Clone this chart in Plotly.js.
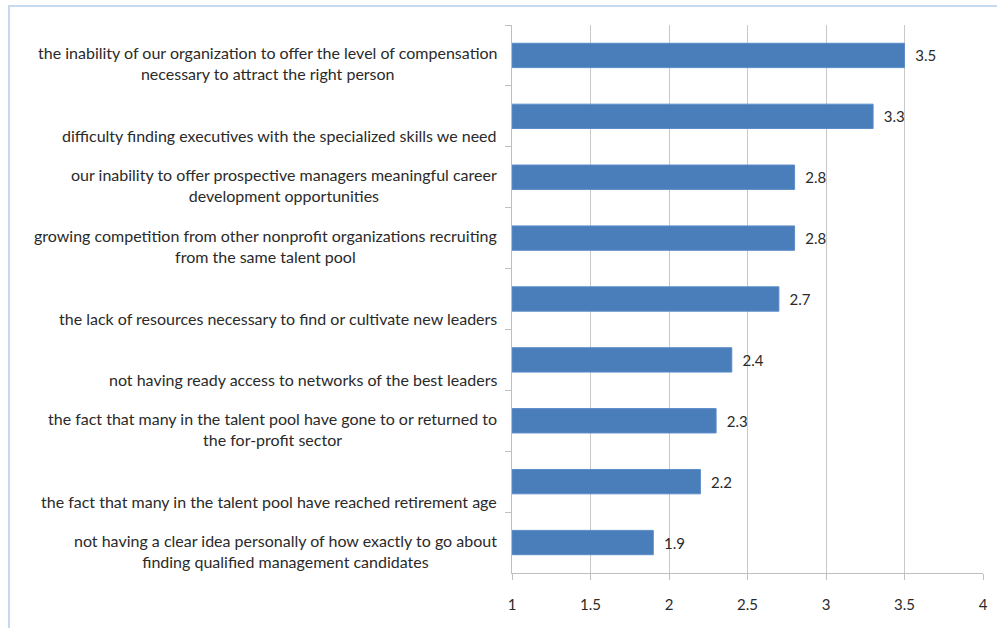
<!DOCTYPE html>
<html>
<head>
<meta charset="utf-8">
<script src="https://cdn.plot.ly/plotly-3.0.1.min.js"></script>
<style>
  html, body { margin: 0; padding: 0; background: #fff; }
  #wrap { position: relative; width: 997px; height: 628px; overflow: hidden; }
  #chart { width: 997px; height: 628px; }
  #frame { position: absolute; left: 8px; top: 5px; width: 1100px; height: 700px;
           border-top: 2px solid #c6d9f0; border-left: 2px solid #c6d9f0; pointer-events: none; }
</style>
</head>
<body>
<div id="wrap">
  <div id="chart"></div>
  <div id="frame"></div>
</div>
<script>
const categories = [
  "the inability of our organization to offer the level of compensation<br>necessary to attract the right person",
  "difficulty finding executives with the specialized skills we need",
  "our inability to offer prospective managers meaningful career<br>development opportunities",
  "growing competition from other nonprofit organizations recruiting<br>from the same talent pool",
  "the lack of resources necessary to find or cultivate new leaders",
  "not having ready access to networks of the best leaders",
  "the fact that many in the talent pool have gone to or returned to<br>the for-profit sector",
  "the fact that many in the talent pool have reached retirement age",
  "not having a clear idea personally of how exactly to go about<br>finding qualified management candidates"
];
const values = [3.5, 3.3, 2.8, 2.8, 2.7, 2.4, 2.3, 2.2, 1.9];
const xTicks = [1, 1.5, 2, 2.5, 3, 3.5, 4];

const FONT = "Lato, 'Open Sans', sans-serif";
const TXT = "#2a2a2a";
const LINE_H = 19.5;

const annotations = categories.map(function (c) {
  const n = c.split("<br>").length;
  return {
    text: c, xref: "paper", x: 0, xanchor: "right", xshift: -13,
    yref: "y", y: c, yanchor: "middle",
    yshift: -(LINE_H - (n - 1) * 11.5),
    align: "center", showarrow: false,
    font: { family: FONT, size: 16, color: TXT }
  };
});

const axisMin = 1;
const trace = {
  type: "bar", orientation: "h",
  x: values.map(v => v - axisMin), y: categories, base: axisMin,
  marker: { color: "#4a7ebb", line: { color: "#5b8cc8", width: 1 } },
  text: values.map(v => "\u00a0\u00a0" + v.toFixed(1)),
  textposition: "outside", cliponaxis: false,
  textfont: { family: FONT, size: 15, color: TXT },
  hoverinfo: "none"
};

const layout = {
  width: 997, height: 628,
  margin: { l: 512, r: 14, t: 25, b: 55 },
  paper_bgcolor: "#ffffff", plot_bgcolor: "#ffffff",
  showlegend: false, bargap: 0.6,
  xaxis: {
    range: [1, 4], tickvals: xTicks, ticktext: xTicks.map(String),
    showgrid: true, gridcolor: "#c8c8c8", gridwidth: 1,
    zeroline: false, showline: true, linecolor: "#bfbfbf", linewidth: 1,
    ticks: "outside", ticklen: 6, tickcolor: "#bfbfbf", ticklabelstandoff: 12,
    tickfont: { family: FONT, size: 15, color: TXT }, fixedrange: true
  },
  yaxis: {
    type: "category", autorange: "reversed",
    showticklabels: false, showgrid: false, zeroline: false,
    showline: true, linecolor: "#bfbfbf", linewidth: 1,
    ticks: "outside", tickson: "boundaries", ticklen: 6, tickcolor: "#bfbfbf",
    fixedrange: true
  },
  annotations: annotations
};

Plotly.newPlot("chart", [trace], layout, { displayModeBar: false, staticPlot: true });
</script>
</body>
</html>
